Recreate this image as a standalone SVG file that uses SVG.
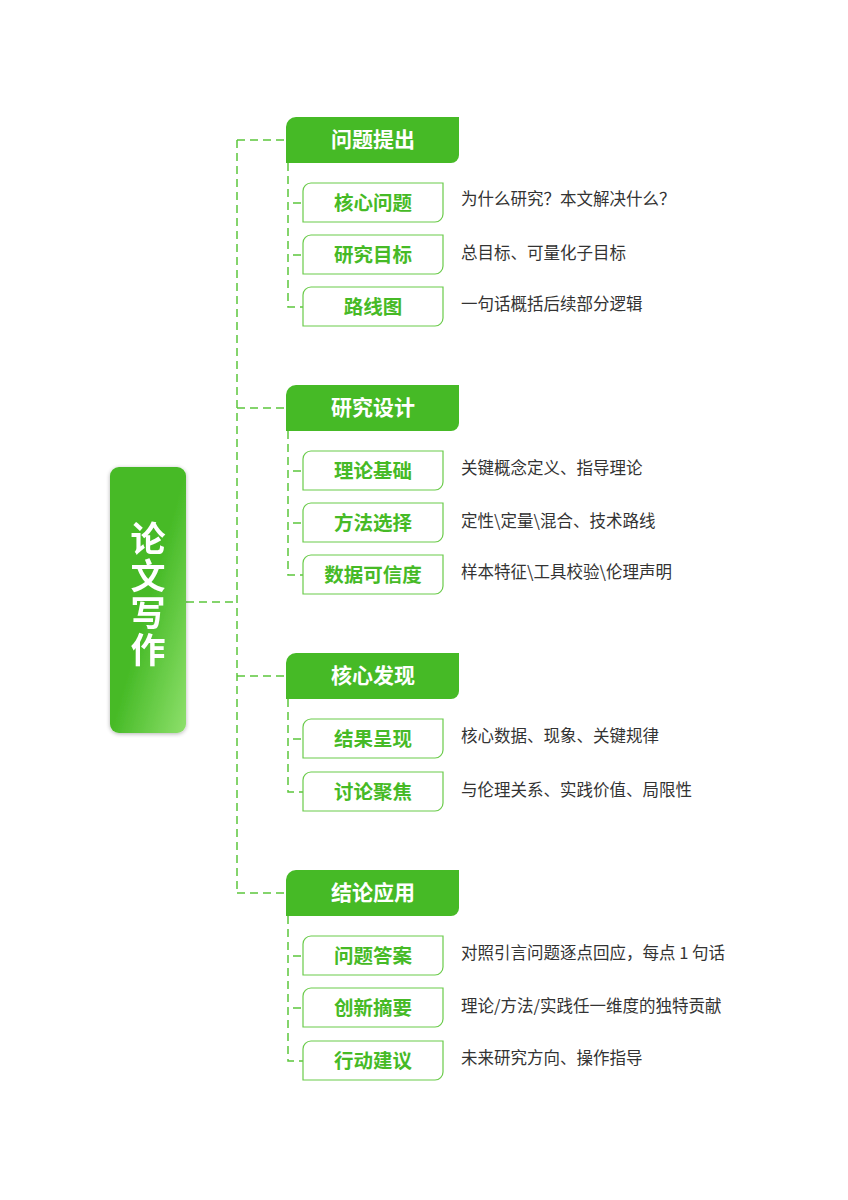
<svg xmlns="http://www.w3.org/2000/svg" width="848" height="1200" viewBox="0 0 848 1200">
<defs>
<linearGradient id="rg" x1="0" y1="0" x2="1" y2="1"><stop offset="0.5" stop-color="#46ba26"/><stop offset="1" stop-color="#8ee06c"/></linearGradient>
<filter id="sh" x="-30%" y="-10%" width="160%" height="120%"><feGaussianBlur in="SourceAlpha" stdDeviation="2"/><feOffset dx="0" dy="1"/><feComponentTransfer><feFuncA type="linear" slope="0.3"/></feComponentTransfer><feMerge><feMergeNode/><feMergeNode in="SourceGraphic"/></feMerge></filter>
</defs>
<style>
.c{fill:none;stroke:#5cc63c;stroke-width:1.5;stroke-dasharray:8 5}
.h{fill:#46ba26}
.ht{fill:#fff;font:bold 21px "Noto Sans CJK SC",sans-serif;text-anchor:middle}
.b{fill:#fff;stroke:#6acb4a;stroke-width:1.2}
.bt{fill:#46ba26;font:bold 19.5px "Noto Sans CJK SC",sans-serif;text-anchor:middle}
.d{fill:#333;font:16.5px "Noto Sans CJK SC",sans-serif}
.r{fill:#fff;font:bold 35px "Noto Sans CJK SC",sans-serif;text-anchor:middle}
</style>
<rect width="848" height="1200" fill="#fff"/>
<g id="connectors">
<path class="c" d="M186 602H237M237 140V893M237 140H286M237 408H286M237 676H286M237 893H286"/>
<path class="c" d="M288 163V307H303M293 203H303M293 255H303"/>
<path class="c" d="M288 431V575H303M293 471H303M293 523H303"/>
<path class="c" d="M288 699V792H303M293 739H303"/>
<path class="c" d="M288 916V1061H303M293 956H303M293 1008H303"/>
</g>
<g id="root" filter="url(#sh)"><rect x="110" y="467" width="76" height="266" rx="9" fill="url(#rg)"/>
<text class="r"><tspan x="148" y="552">论</tspan><tspan x="148" y="589">文</tspan><tspan x="148" y="626">写</tspan><tspan x="148" y="663">作</tspan></text></g>
<g id="s1"><path class="h" d="M296 117H459V155a8 8 0 0 1-8 8H286V127a10 10 0 0 1 10-10z"/><text class="ht" x="373" y="147">问题提出</text></g>
<g id="s2"><path class="h" d="M296 385H459V423a8 8 0 0 1-8 8H286V395a10 10 0 0 1 10-10z"/><text class="ht" x="373" y="415">研究设计</text></g>
<g id="s3"><path class="h" d="M296 653H459V691a8 8 0 0 1-8 8H286V663a10 10 0 0 1 10-10z"/><text class="ht" x="373" y="683">核心发现</text></g>
<g id="s4"><path class="h" d="M296 870H459V908a8 8 0 0 1-8 8H286V880a10 10 0 0 1 10-10z"/><text class="ht" x="373" y="900">结论应用</text></g>
<g id="n11"><path class="b" d="M311 183H443V214a8 8 0 0 1-8 8H303V191a8 8 0 0 1 8-8z"/><text class="bt" x="373" y="210">核心问题</text><text class="d" x="461" y="205">为什么研究？本文解决什么？</text></g>
<g id="n12"><path class="b" d="M311 235H443V266a8 8 0 0 1-8 8H303V243a8 8 0 0 1 8-8z"/><text class="bt" x="373" y="262">研究目标</text><text class="d" x="461" y="259">总目标、可量化子目标</text></g>
<g id="n13"><path class="b" d="M311 287H443V318a8 8 0 0 1-8 8H303V295a8 8 0 0 1 8-8z"/><text class="bt" x="373" y="314">路线图</text><text class="d" x="461" y="310">一句话概括后续部分逻辑</text></g>
<g id="n21"><path class="b" d="M311 451H443V482a8 8 0 0 1-8 8H303V459a8 8 0 0 1 8-8z"/><text class="bt" x="373" y="478">理论基础</text><text class="d" x="461" y="474">关键概念定义、指导理论</text></g>
<g id="n22"><path class="b" d="M311 503H443V534a8 8 0 0 1-8 8H303V511a8 8 0 0 1 8-8z"/><text class="bt" x="373" y="530">方法选择</text><text class="d" x="461" y="527">定性\定量\混合、技术路线</text></g>
<g id="n23"><path class="b" d="M311 555H443V586a8 8 0 0 1-8 8H303V563a8 8 0 0 1 8-8z"/><text class="bt" x="373" y="582">数据可信度</text><text class="d" x="461" y="578">样本特征\工具校验\伦理声明</text></g>
<g id="n31"><path class="b" d="M311 719H443V750a8 8 0 0 1-8 8H303V727a8 8 0 0 1 8-8z"/><text class="bt" x="373" y="746">结果呈现</text><text class="d" x="461" y="742">核心数据、现象、关键规律</text></g>
<g id="n32"><path class="b" d="M311 772H443V803a8 8 0 0 1-8 8H303V780a8 8 0 0 1 8-8z"/><text class="bt" x="373" y="799">讨论聚焦</text><text class="d" x="461" y="796">与伦理关系、实践价值、局限性</text></g>
<g id="n41"><path class="b" d="M311 936H443V967a8 8 0 0 1-8 8H303V944a8 8 0 0 1 8-8z"/><text class="bt" x="373" y="963">问题答案</text><text class="d" x="461" y="959">对照引言问题逐点回应，每点 1 句话</text></g>
<g id="n42"><path class="b" d="M311 988H443V1019a8 8 0 0 1-8 8H303V996a8 8 0 0 1 8-8z"/><text class="bt" x="373" y="1015">创新摘要</text><text class="d" x="461" y="1012">理论/方法/实践任一维度的独特贡献</text></g>
<g id="n43"><path class="b" d="M311 1041H443V1072a8 8 0 0 1-8 8H303V1049a8 8 0 0 1 8-8z"/><text class="bt" x="373" y="1068">行动建议</text><text class="d" x="461" y="1064">未来研究方向、操作指导</text></g>
</svg>
